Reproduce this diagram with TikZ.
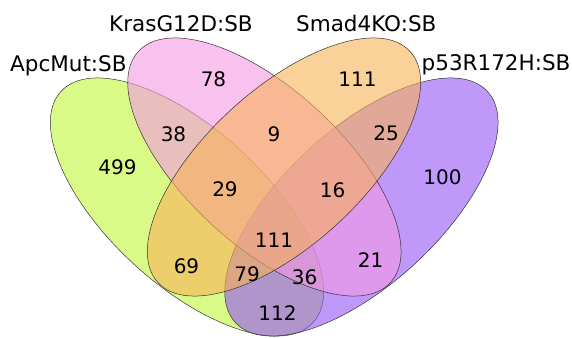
\documentclass[tikz,border=0pt]{standalone}
\usepackage{fontspec}
\setmainfont{DejaVu Sans}
\definecolor{apc}{RGB}{192,247,55}
\definecolor{kras}{RGB}{245,153,227}
\definecolor{smad}{RGB}{248,178,87}
\definecolor{tp53}{RGB}{148,83,247}
\tikzset{
  venn set/.style={draw=black!80, line width=0.5bp, fill opacity=0.6},
  set name/.style={font=\fontsize{21.5bp}{25bp}\selectfont, inner sep=0pt, anchor=base west},
  count/.style={font=\fontsize{20bp}{24bp}\selectfont, inner sep=0pt}
}

\begin{document}
\begin{tikzpicture}[x=1bp,y=1bp]
  \useasboundingbox (0,0) rectangle (572,337);
  \clip (0,0) rectangle (572,337);

  % the four sets, outer ones first
  \draw[venn set, fill=apc]  (187,130)   circle[x radius=171bp, y radius=78bp, rotate=-42.5];
  \draw[venn set, fill=tp53] (361.4,130) circle[x radius=171bp, y radius=78bp, rotate=42.5];
  \draw[venn set, fill=kras] (264.4,170) circle[x radius=171bp, y radius=78bp, rotate=-42.5];
  \draw[venn set, fill=smad] (284,170)   circle[x radius=171bp, y radius=78bp, rotate=42.5];

  % set names
  \node[set name] (l_apc)  at (10,266)    {ApcMut:SB};
  \node[set name] (l_kras) at (109,306)   {KrasG12D:SB};
  \node[set name] (l_smad) at (296,305.3) {Smad4KO:SB};
  \node[set name] (l_p53)  at (421.5,266.3) {p53R172H:SB};

  % region counts
  \node[count] (c_a)    at (117.5,169.5) {499};
  \node[count] (c_k)    at (213.5,258)   {78};
  \node[count] (c_s)    at (357.5,258)   {111};
  \node[count] (c_p)    at (442.5,159.5) {100};
  \node[count] (c_ak)   at (173.5,203)   {38};
  \node[count] (c_ks)   at (274,203)     {9};
  \node[count] (c_sp)   at (386,203.5)   {25};
  \node[count] (c_aks)  at (225,147.5)   {29};
  \node[count] (c_ksp)  at (332.5,147)   {16};
  \node[count] (c_aksp) at (274,96.5)    {111};
  \node[count] (c_as)   at (186.5,71)    {69};
  \node[count] (c_asp)  at (247,62.5)    {79};
  \node[count] (c_akp)  at (304.5,60)    {36};
  \node[count] (c_kp)   at (370.5,76.5)  {21};
  \node[count] (c_ap)   at (277.5,23.5)  {112};
\end{tikzpicture}
\end{document}
